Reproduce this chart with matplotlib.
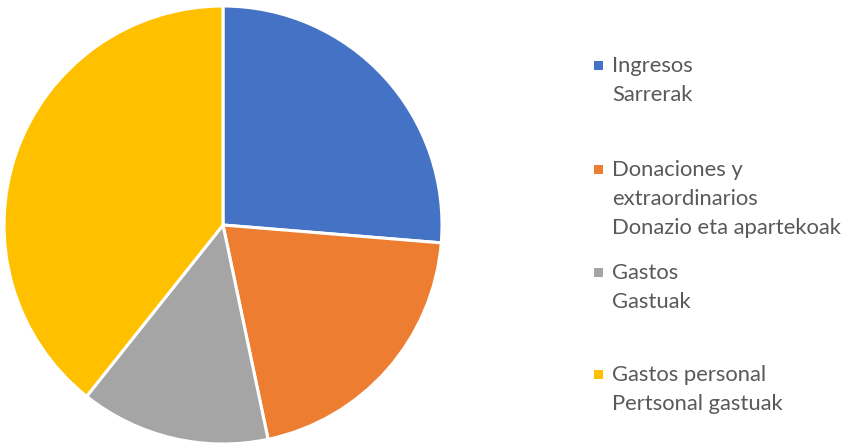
import matplotlib
matplotlib.use("Agg")
import matplotlib.pyplot as plt
from matplotlib.patches import Rectangle

labels = ["Ingresos\nSarrerak",
          "Donaciones y\nextraordinarios\nDonazio eta apartekoak",
          "Gastos\nGastuak",
          "Gastos personal\nPertsonal gastuak"]
values = [26.3, 20.4, 14.0, 39.3]
colors = ["#4472C4", "#ED7D31", "#A5A5A5", "#FFC000"]

W, H = 853, 446
fig = plt.figure(figsize=(W / 100, H / 100), dpi=100)
fig.patch.set_facecolor("white")

cx, cy, r = 223, 225, 219
ax = fig.add_axes([(cx - r) / W, (H - cy - r) / H, 2 * r / W, 2 * r / H])
ax.pie(values, colors=colors, startangle=90, counterclock=False, radius=1,
       wedgeprops=dict(edgecolor="white", linewidth=2.2))
ax.set_xlim(-1, 1)
ax.set_ylim(-1, 1)
ax.set_aspect("auto")
ax.axis("off")

# legend
baselines = [73, 177, 280, 382]
for lab, col, by in zip(labels, colors, baselines):
    fig.patches.append(Rectangle((594 / W, (H - by + 3) / H), 9 / W, 9 / H,
                                 transform=fig.transFigure, facecolor=col,
                                 edgecolor="none", figure=fig))
    fig.text(612 / W, (H - by + 17) / H, lab, ha="left", va="top",
             fontsize=15.8, family="Lato", color="#595959", linespacing=1.56)

fig.savefig("out.png", dpi=100)
